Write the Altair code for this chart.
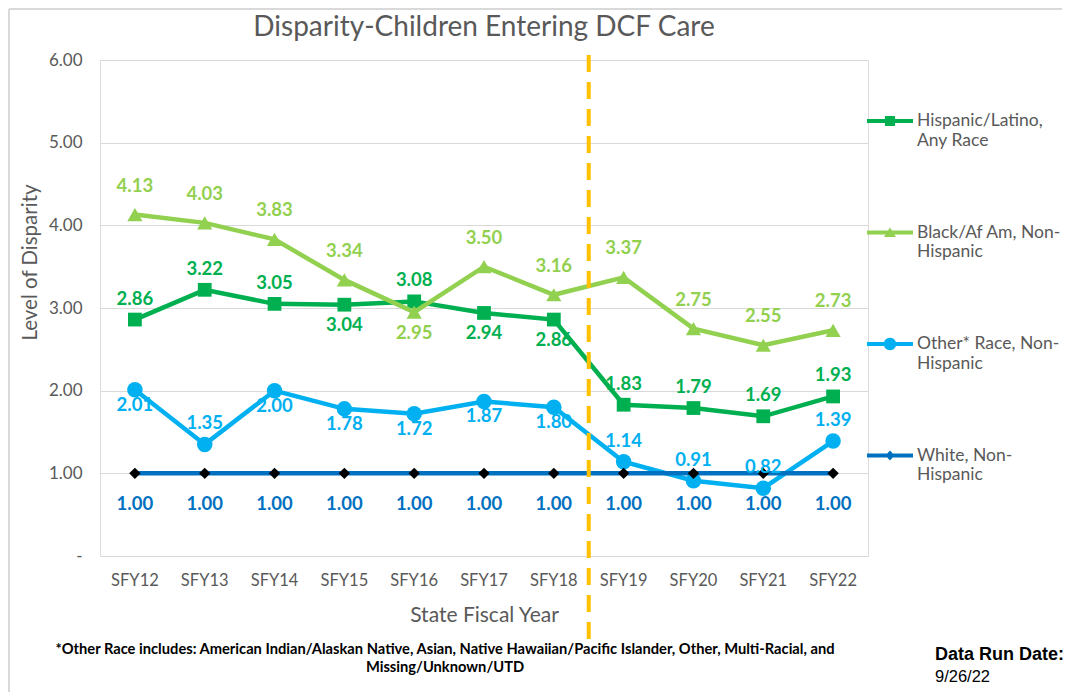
import altair as alt
import pandas as pd

years = ["SFY12", "SFY13", "SFY14", "SFY15", "SFY16", "SFY17", "SFY18", "SFY19", "SFY20", "SFY21", "SFY22"]
hispanic = [2.86, 3.22, 3.05, 3.04, 3.08, 2.94, 2.86, 1.83, 1.79, 1.69, 1.93]
black = [4.13, 4.03, 3.83, 3.34, 2.95, 3.50, 3.16, 3.37, 2.75, 2.55, 2.73]
other = [2.01, 1.35, 2.00, 1.78, 1.72, 1.87, 1.80, 1.14, 0.91, 0.82, 1.39]
white = [1.00, 1.00, 1.00, 1.00, 1.00, 1.00, 1.00, 1.00, 1.00, 1.00, 1.00]

series_names = [
    "Hispanic/Latino,|Any Race",
    "Black/Af Am, Non-|Hispanic",
    "Other* Race, Non-|Hispanic",
    "White, Non-|Hispanic",
]
series_values = [hispanic, black, other, white]

# label placement (a = above, b = below)
hispanic_lbl = ["a", "a", "a", "b", "a", "b", "b", "a", "a", "a", "a"]
black_lbl = ["a", "a", "a", "a", "b", "a", "a", "a", "a", "a", "a"]
other_lbl = ["b", "a", "b", "b", "b", "b", "b", "a", "a", "a", "a"]
white_lbl = ["b", "b", "b", "b", "b", "b", "b", "b", "b", "b", "b"]
series_lbl = [hispanic_lbl, black_lbl, other_lbl, white_lbl]

divider_year = ["SFY19"]

title_text = "Disparity-Children Entering DCF Care"
footnote = ("*Other Race includes:  American Indian/Alaskan Native, Asian, Native Hawaiian/Pacific Islander, Other, Multi-Racial, and\n"
            "Missing/Unknown/UTD")
run_date_label = "Data Run Date:"
run_date = "9/26/22"

# styles
line_colors = ["#00B050", "#92D050", "#00B0F0", "#0070C0"]
label_colors = ["#00B050", "#92D050", "#00B0F0", "#0070C0"]
point_shapes = ["square", "triangle-up", "circle", "diamond"]
point_sizes = [190, 230, 240, 130]
point_fills = ["#00B050", "#92D050", "#00B0F0", "#000000"]
dy_above = [-21, -29, -21, -22]
dy_below = [20, 21, 15, 31]

GRAY = "#595959"
FONT = "Lato"
W, H = 768, 496

rows = []
for name, vals, lbls in zip(series_names, series_values, series_lbl):
    for y, v, l in zip(years, vals, lbls):
        rows.append({"series": name, "year": y, "value": v, "pos": l, "txt": f"{v:.2f}"})
df = pd.DataFrame(rows)

xscale = alt.Scale(type="band", domain=years, paddingInner=0, paddingOuter=0)
x_enc = alt.X("year:N", scale=xscale, sort=years,
              axis=alt.Axis(title="State Fiscal Year", labelAngle=0, ticks=False, domain=False,
                            labelFontSize=16.5, labelColor=GRAY, labelFont=FONT, labelPadding=16,
                            titleFontSize=21, titleColor=GRAY, titleFont=FONT, titleFontWeight="normal",
                            titlePadding=16, grid=False))
y_enc = alt.Y("value:Q", scale=alt.Scale(domain=[0, 6]),
              axis=alt.Axis(title="Level of Disparity", values=[0, 1, 2, 3, 4, 5, 6], ticks=False, domain=False,
                            labelExpr="datum.value == 0 ? '-' : format(datum.value, '.2f')",
                            labelFontSize=17, labelColor=GRAY, labelFont=FONT, labelPadding=18,
                            titleFontSize=20.5, titleColor=GRAY, titleFont=FONT, titleFontWeight="normal",
                            titlePadding=8, titleY=202, titleAlign="center",
                            gridColor="#D9D9D9", gridWidth=1.2))

base = alt.Chart(df)
layers = []

# legend layer (invisible points, legend only): line + marker symbols
line_path = "M-1,-0.09H1V0.09H-1Z"
sq = "M-0.22,-0.22H0.22V0.22H-0.22Z"
tri = "M0,-0.22L0.26,0.2H-0.26Z"
cir = "M-0.27,0A0.27,0.27,0,1,1,0.27,0A0.27,0.27,0,1,1,-0.27,0Z"
dia = "M0,-0.22L0.2,0L0,0.22L-0.2,0Z"
legend_shapes = [line_path + sq, line_path + tri, line_path + cir, line_path + dia]

legend_layer = base.mark_point(filled=True, opacity=0).encode(
    x=x_enc, y=y_enc,
    color=alt.Color("series:N", scale=alt.Scale(domain=series_names, range=line_colors),
                    legend=alt.Legend(orient="none", legendX=767, legendY=38, title=None, padding=0,
                                      symbolSize=2116, symbolOpacity=1, symbolStrokeWidth=0,
                                      labelFontSize=17.5, labelColor=GRAY, labelFont=FONT, labelOffset=4,
                                      labelExpr="split(datum.label, '|')", rowPadding=60.5, labelLimit=220)),
    shape=alt.Shape("series:N", scale=alt.Scale(domain=series_names, range=legend_shapes), legend=None),
)
layers.append(legend_layer)

for i, name in enumerate(series_names):
    sub = base.transform_filter(alt.datum.series == name)
    layers.append(sub.mark_line(color=line_colors[i], strokeWidth=4.5).encode(x=x_enc, y=y_enc))
    layers.append(sub.mark_point(shape=point_shapes[i], size=point_sizes[i], filled=True,
                                 fill=point_fills[i], opacity=1, strokeWidth=0).encode(x=x_enc, y=y_enc))

for i, name in enumerate(series_names):
    for pos, dy in (("a", dy_above[i]), ("b", dy_below[i])):
        sub = base.transform_filter((alt.datum.series == name) & (alt.datum.pos == pos))
        layers.append(sub.mark_text(fontSize=18.5, fontWeight="bold", font=FONT, color=label_colors[i],
                                    dy=dy, baseline="middle", align="center").encode(
            x=x_enc, y=y_enc, text="txt:N"))

# divider
div_df = pd.DataFrame({"year": divider_year})
layers.append(alt.Chart(div_df).mark_rule(color="#FFC000", strokeWidth=4, strokeDash=[17, 10]).encode(
    x=alt.X("year:N", scale=xscale, bandPosition=0), y=alt.value(-5), y2=alt.value(582)))

# footnotes
layers.append(alt.Chart(pd.DataFrame({"t": [footnote]})).mark_text(
    fontSize=14.7, fontWeight="bold", font=FONT, color="#000000", lineBreak="\n",
    lineHeight=18, align="center", baseline="middle").encode(text="t:N", x=alt.value(345), y=alt.value(590)))
layers.append(alt.Chart(pd.DataFrame({"t": [run_date_label]})).mark_text(
    fontSize=18, fontWeight="bold", font="Liberation Sans", color="#000000", align="left",
    baseline="middle").encode(text="t:N", x=alt.value(835), y=alt.value(595)))
layers.append(alt.Chart(pd.DataFrame({"t": [run_date]})).mark_text(
    fontSize=16.5, font="Liberation Sans", color="#000000", align="left",
    baseline="middle").encode(text="t:N", x=alt.value(835), y=alt.value(617)))

# frame lines
layers.append(alt.Chart(pd.DataFrame({"k": [0]})).mark_rule(color="#D9D9D9", strokeWidth=2).encode(
    x=alt.value(-91), y=alt.value(-51), y2=alt.value(640)))
layers.append(alt.Chart(pd.DataFrame({"k": [0]})).mark_rule(color="#D9D9D9", strokeWidth=2).encode(
    x=alt.value(-91), x2=alt.value(962), y=alt.value(-51)))

chart = alt.layer(*layers).properties(
    width=W, height=H,
    title=alt.Title(title_text, fontSize=28, font=FONT, color=GRAY, fontWeight="normal", anchor="middle",
                    offset=14, dy=48),
    autosize=alt.AutoSizeParams(type="none"),
    padding={"left": 92, "top": 52, "right": 195, "bottom": 136},
).configure_view(stroke=None).configure(background="white")

chart.save("out.html", embed_options={"renderer": "svg", "actions": False})
